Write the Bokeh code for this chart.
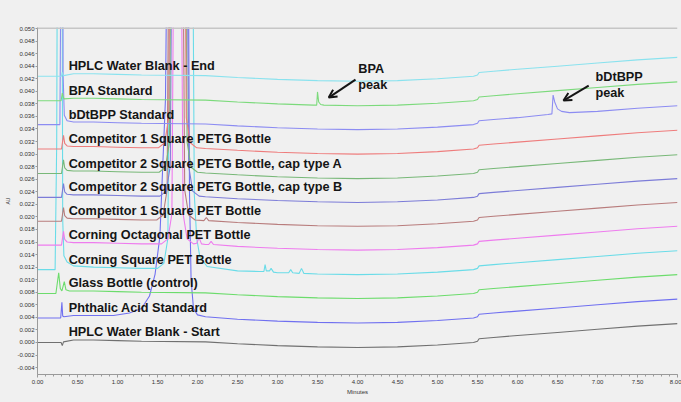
from bokeh.plotting import figure
from bokeh.models import (SingleIntervalTicker, NumeralTickFormatter, Arrow, OpenHead, Span)
from bokeh.core.properties import value
from bokeh.embed import file_html
from bokeh.resources import INLINE

# ---------------- data ----------------
# sample names, bottom trace first
sample_names = [
    "HPLC Water Blank - Start",
    "Phthalic Acid Standard",
    "Glass Bottle (control)",
    "Corning Square PET Bottle",
    "Corning Octagonal PET Bottle",
    "Competitor 1 Square PET Bottle",
    "Competitor 2 Square PETG Bottle, cap type B",
    "Competitor 2 Square PETG Bottle, cap type A",
    "Competitor 1 Square PETG Bottle",
    "bDtBPP Standard",
    "BPA Standard",
    "HPLC Water Blank - End",
]
# vertical stacking offset of each trace (AU)
offsets = [0.0000, 0.0039, 0.0078, 0.0116, 0.0155, 0.0193,
           0.0231, 0.0269, 0.0308, 0.0347, 0.0385, 0.0424]
colors = ["#707070", "#7070f0", "#6cdc6c", "#6adce8", "#ee7cee", "#b87c7c",
          "#7c7cd8", "#78b878", "#ee7c7c", "#8c8cf2", "#7cda7c", "#8ae2ee"]

# common baseline drift shared by all traces (AU relative to start)
drift_min = [0.0, 0.28, 0.45, 0.7, 1.0, 1.3, 2.1, 2.5, 3.0, 3.5, 4.0, 4.5,
             5.0, 5.45, 5.5, 5.52, 5.7, 6.0, 6.5, 7.0, 7.5, 8.0]
drift_au = [0.0, 0.0, 0.0004, 0.0004, 0.0003, 0.0002, 0.0001, -0.0002, -0.0005,
            -0.0007, -0.0008, -0.0007, -0.0004, 0.0, 0.0002, 0.0006, 0.0008,
            0.0011, 0.0016, 0.0021, 0.0026, 0.0030]

# per-trace features (minutes, AU relative to the trace's own baseline)
hook_min = [0.30, 0.325, 0.34, 0.37]
hook_au = [0.0, 0.0022, 0.0009, 0.0005]
big_au = [0.0002, 0.0010, 0.005, 0.1, 0.1, 0.005, 0.0010, 0.0002]

start_front_min = [0.295, 0.31, 0.325]
start_front_au = [0.0, -0.0005, 0.0001]

phth_front_min = [0.29, 0.305, 0.315, 0.33]
phth_front_au = [0.0, 0.0025, 0.0003, 0.0002]
phth_big_min = [0.95, 1.15, 1.3, 1.4, 1.47, 1.53, 1.6, 1.65, 1.87, 1.9, 1.92, 1.95, 2.0, 2.1]
phth_big_au = [0.0004, 0.0008, 0.0015, 0.0035, 0.007, 0.013, 0.035, 0.1, 0.1,
               0.02, 0.006, 0.0015, 0.0005, 0.0002]

glass_front_min = [0.23, 0.265, 0.285, 0.305, 0.335, 0.355, 0.4]
glass_front_au = [0.0, 0.0033, 0.0008, 0.0004, 0.0019, 0.0006, 0.0004]

square_front_min = [0.22, 0.24, 0.26, 0.30, 0.315, 0.33, 0.37, 0.45]
square_front_au = [0.0, 0.02, 0.1, 0.1, 0.008, 0.0022, 0.0012, 0.0006]
square_big_min = [1.5, 1.58, 1.63, 1.68, 1.92, 1.96, 1.99, 2.03, 2.12]
square_big_au = [0.0002, 0.001, 0.005, 0.1, 0.1, 0.012, 0.005, 0.002, 0.0005]
square_small1_min = [2.78, 2.83, 2.845, 2.86, 2.9, 2.92, 2.95]
square_small1_au = [-0.0003, -0.0003, 0.0008, -0.0002, -0.0002, 0.0002, -0.0004]
square_small2_min = [3.14, 3.165, 3.19, 3.27, 3.3, 3.33]
square_small2_au = [-0.0005, 0.0, -0.0005, -0.0006, 0.0002, -0.0006]

oct_big_min = [1.55, 1.63, 1.68, 1.73, 1.77, 1.82, 1.87, 1.95]
oct_bump1_min = [1.99, 2.02, 2.05]
oct_bump1_au = [0.0003, 0.0012, 0.0002]
oct_bump2_min = [2.14, 2.17, 2.2]
oct_bump2_au = [0.0001, 0.0006, 0.0001]

pet_big_min = [1.49, 1.57, 1.62, 1.67, 1.79, 1.84, 1.89, 1.97]
pet_bump_min = [2.08, 2.11, 2.14]
pet_bump_au = [0.0001, 0.0006, 0.0001]

capb_big_min = [1.53, 1.61, 1.66, 1.71, 1.84, 1.89, 1.94, 2.02]
capa_big_min = [1.52, 1.60, 1.65, 1.70, 1.82, 1.87, 1.92, 2.00]
petg_big_min = [1.51, 1.59, 1.64, 1.69, 1.81, 1.86, 1.91, 1.99]

bdt_front_min = [0.28, 0.29, 0.30, 0.31, 0.32, 0.335, 0.37, 0.45]
bdt_front_au = [0.0, 0.02, 0.1, 0.1, 0.008, 0.0015, 0.0006, 0.0004]
bdt_peak_min = [6.38, 6.43, 6.445, 6.465, 6.5, 6.55, 6.65]
bdt_peak_au = [0.0016, 0.0017, 0.0047, 0.0036, 0.0025, 0.0021, 0.0019]

bpa_front_min = [0.295, 0.31, 0.33]
bpa_front_au = [0.0, 0.0012, 0.0003]
bpa_peak_min = [3.45, 3.49, 3.50, 3.515, 3.54, 3.58]
bpa_peak_au = [-0.0007, -0.0007, 0.0014, -0.0002, -0.0006, -0.0007]

end_front_min = [0.3, 0.31, 0.325]
end_front_au = [0.0, 0.0006, 0.0001]

trace_features = [
    [(start_front_min, start_front_au)],
    [(phth_front_min, phth_front_au), (phth_big_min, phth_big_au)],
    [(glass_front_min, glass_front_au)],
    [(square_front_min, square_front_au), (square_big_min, square_big_au),
     (square_small1_min, square_small1_au), (square_small2_min, square_small2_au)],
    [(hook_min, hook_au), (oct_big_min, big_au), (oct_bump1_min, oct_bump1_au),
     (oct_bump2_min, oct_bump2_au)],
    [(hook_min, hook_au), (pet_big_min, big_au), (pet_bump_min, pet_bump_au)],
    [(hook_min, hook_au), (capb_big_min, big_au)],
    [(hook_min, hook_au), (capa_big_min, big_au)],
    [(hook_min, hook_au), (petg_big_min, big_au)],
    [(bdt_front_min, bdt_front_au), (bdt_peak_min, bdt_peak_au)],
    [(bpa_front_min, bpa_front_au), (bpa_peak_min, bpa_peak_au)],
    [(end_front_min, end_front_au)],
]

# annotations
note_text = ["BPA", "peak", "bDtBPP", "peak"]
note_min = [4.01, 4.01, 6.975, 6.975]
note_au = [0.04354, 0.04107, 0.0422, 0.0398]
arrow_from_min = [3.975, 6.89]
arrow_from_au = [0.04187, 0.0409]
arrow_to_min = [3.64, 6.575]
arrow_to_au = [0.0390, 0.03853]

label_min = 0.39
label_lift = 0.0016


def build(offset, groups):
    spans = [(g[0][0], g[0][-1]) for g in groups]
    pts = [(t, a) for t, a in zip(drift_min, drift_au)
           if not any(s <= t <= e for s, e in spans)]
    for mins, aus in groups:
        pts += list(zip(mins, aus))
    pts.sort()
    return [t for t, _ in pts], [offset + a for _, a in pts]


BG = "#f0f0f0"
FONT = "Liberation Sans"

p = figure(frame_width=640, frame_height=347, x_range=(0, 8), y_range=(-0.0051, 0.05016),
           output_backend="svg", toolbar_location=None,
           min_border_left=37, min_border_right=4, min_border_top=27, min_border_bottom=28,
           background_fill_color=BG, border_fill_color=BG, outline_line_color=None)
p.xgrid.visible = False
p.ygrid.visible = False

for off, col, feats in zip(offsets, colors, trace_features):
    xs, ys = build(off, feats)
    p.line(xs, ys, line_color=col, line_width=1.1)

p.add_layout(Span(location=0.0501, dimension="width", line_color="#c6c6c6", line_width=2))

p.text(x=[label_min] * len(sample_names), y=[o + label_lift for o in offsets], text=sample_names,
       text_font=value(FONT), text_font_style="bold", text_font_size="12.7px",
       text_baseline="middle", text_align="left", text_color="#151515")

p.text(x=note_min, y=note_au, text=note_text, text_font=value(FONT), text_font_style="bold",
       text_font_size="12.7px", text_baseline="middle", text_align="left", text_color="#151515")

for x0, y0, x1, y1 in zip(arrow_from_min, arrow_from_au, arrow_to_min, arrow_to_au):
    p.add_layout(Arrow(end=OpenHead(size=8, line_width=2, line_color="#151515"),
                       x_start=x0, y_start=y0, x_end=x1, y_end=y1,
                       line_width=2, line_color="#151515"))

ax = p.xaxis[0]
ax.ticker = SingleIntervalTicker(interval=0.5, num_minor_ticks=5)
ax.formatter = NumeralTickFormatter(format="0.00")
ax.axis_label = "Minutes"
ax.axis_label_text_font = FONT
ax.axis_label_text_font_style = "normal"
ax.axis_label_text_font_size = "6px"
ax.axis_label_text_color = "#333333"
ax.axis_label_standoff = 2
ax.major_label_text_font = FONT
ax.major_label_text_font_size = "6px"
ax.major_label_text_color = "#333333"
ax.major_label_standoff = 2
ax.axis_line_color = "#9a9a9a"
ax.major_tick_line_color = "#9a9a9a"
ax.minor_tick_line_color = "#9a9a9a"
ax.major_tick_in = 0
ax.major_tick_out = 3
ax.minor_tick_in = 0
ax.minor_tick_out = 2

ay = p.yaxis[0]
ay.ticker = SingleIntervalTicker(interval=0.002, num_minor_ticks=0)
ay.formatter = NumeralTickFormatter(format="0.000")
ay.axis_label = "AU"
ay.axis_label_text_font = FONT
ay.axis_label_text_font_style = "normal"
ay.axis_label_text_font_size = "5px"
ay.axis_label_text_color = "#333333"
ay.axis_label_standoff = 3
ay.major_label_text_font = FONT
ay.major_label_text_font_size = "6px"
ay.major_label_text_color = "#333333"
ay.major_label_standoff = 1
ay.axis_line_color = "#9a9a9a"
ay.major_tick_line_color = "#9a9a9a"
ay.minor_tick_line_color = None
ay.major_tick_in = 0
ay.major_tick_out = 2

page_template = """{% block preamble %}<style>html, body { background: #f0f0f0; }</style>{% endblock %}"""

html = file_html(p, INLINE, "Chromatogram overlay", template=page_template)
open("out.html", "w").write(html)
